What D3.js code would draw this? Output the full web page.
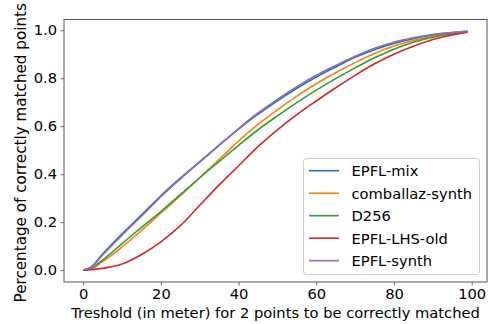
<!DOCTYPE html>
<html><head><meta charset="utf-8">
<script src="https://cdn.jsdelivr.net/npm/d3@7/dist/d3.min.js"></script>
<style>body{margin:0;background:#fff}svg{display:block}text{font-family:"DejaVu Sans",sans-serif;fill:#000}</style>
</head><body><svg id="c" width="492" height="324"></svg>
<script>
const thresholds = [0,2,5,10,15,20,25,30,35,40,45,50,55,60,65,70,75,80,85,90,95,99];
const epflMix      = [0,0.012,0.067,0.151,0.230,0.310,0.383,0.452,0.521,0.588,0.650,0.706,0.758,0.805,0.847,0.887,0.919,0.945,0.965,0.980,0.990,0.995];
const comballazSyn = [0,0.005,0.035,0.097,0.165,0.238,0.310,0.385,0.462,0.538,0.607,0.668,0.725,0.777,0.823,0.865,0.903,0.934,0.957,0.975,0.987,0.993];
const d256         = [0,0.008,0.042,0.110,0.178,0.244,0.315,0.385,0.453,0.520,0.585,0.643,0.698,0.750,0.798,0.843,0.885,0.921,0.950,0.971,0.985,0.993];
const epflLhsOld   = [0,0.002,0.007,0.025,0.065,0.118,0.185,0.270,0.355,0.435,0.515,0.585,0.648,0.705,0.760,0.812,0.860,0.900,0.933,0.961,0.980,0.992];
const epflSynth    = [0,0.010,0.063,0.146,0.225,0.306,0.380,0.450,0.520,0.590,0.655,0.712,0.765,0.812,0.853,0.892,0.925,0.950,0.968,0.982,0.990,0.995];
const seriesNames = ["EPFL-mix","comballaz-synth","D256","EPFL-LHS-old","EPFL-synth"];
const seriesData = [epflMix, comballazSyn, d256, epflLhsOld, epflSynth];
const colors = ["#1f77b4","#ff7f0e","#2ca02c","#d62728","#9467bd"];
const xTicks = [0,20,40,60,80,100];
const yTicks = [0,0.2,0.4,0.6,0.8,1.0];

const svg = d3.select("#c");
const L=64, R=487, T=19.5, B=282;
const x = d3.scaleLinear().domain([-4.95,103.95]).range([L,R]);
const y = d3.scaleLinear().domain([-0.0497,1.0447]).range([B,T]);

const line = d3.line().x(d=>x(d[0])).y(d=>y(d[1])).curve(d3.curveMonotoneX);
seriesData.forEach((s,i)=>{
  svg.append("path").datum(thresholds.map((t,j)=>[t,s[j]]))
    .attr("d",line).attr("fill","none").attr("stroke",colors[i]).attr("stroke-width",1.6);
});

const xa = svg.append("g").attr("transform",`translate(0,${B})`)
  .call(d3.axisBottom(x).tickValues(xTicks).tickSize(3.5).tickPadding(3.5).tickFormat(d3.format("d")));
const ya = svg.append("g").attr("transform",`translate(${L},0)`)
  .call(d3.axisLeft(y).tickValues(yTicks).tickSize(3.5).tickPadding(3.5).tickFormat(d3.format(".1f")));
[xa,ya].forEach(a=>{
  a.select(".domain").remove();
  a.selectAll("line").attr("stroke","#444").attr("stroke-width",0.8);
  a.selectAll("text").attr("font-size",14.7).attr("font-family","DejaVu Sans").attr("fill","#000");
});
svg.append("rect").attr("x",L).attr("y",T).attr("width",R-L).attr("height",B-T)
  .attr("fill","none").attr("stroke","#555").attr("stroke-width",1);

svg.append("text").attr("x",(L+R)/2).attr("y",317.5).attr("text-anchor","middle").attr("font-size",14.7)
  .text("Treshold (in meter) for 2 points to be correctly matched");
svg.append("text").attr("transform",`translate(25.5,${(T+B)/2+2}) rotate(-90)`).attr("text-anchor","middle").attr("font-size",15.2)
  .text("Percentage of correctly matched points");

const lg = svg.append("g");
lg.append("rect").attr("x",303.5).attr("y",158.5).attr("width",176).attr("height",116).attr("rx",3)
  .attr("fill","#fff").attr("fill-opacity",0.8).attr("stroke","#ccc").attr("stroke-width",1);
seriesNames.forEach((n,i)=>{
  const yy = 170.7 + i*22.5;
  lg.append("line").attr("x1",309).attr("x2",339).attr("y1",yy).attr("y2",yy).attr("stroke",colors[i]).attr("stroke-width",1.6);
  lg.append("text").attr("x",351.5).attr("y",yy+5.3).attr("font-size",14.7).text(n);
});
</script></body></html>
